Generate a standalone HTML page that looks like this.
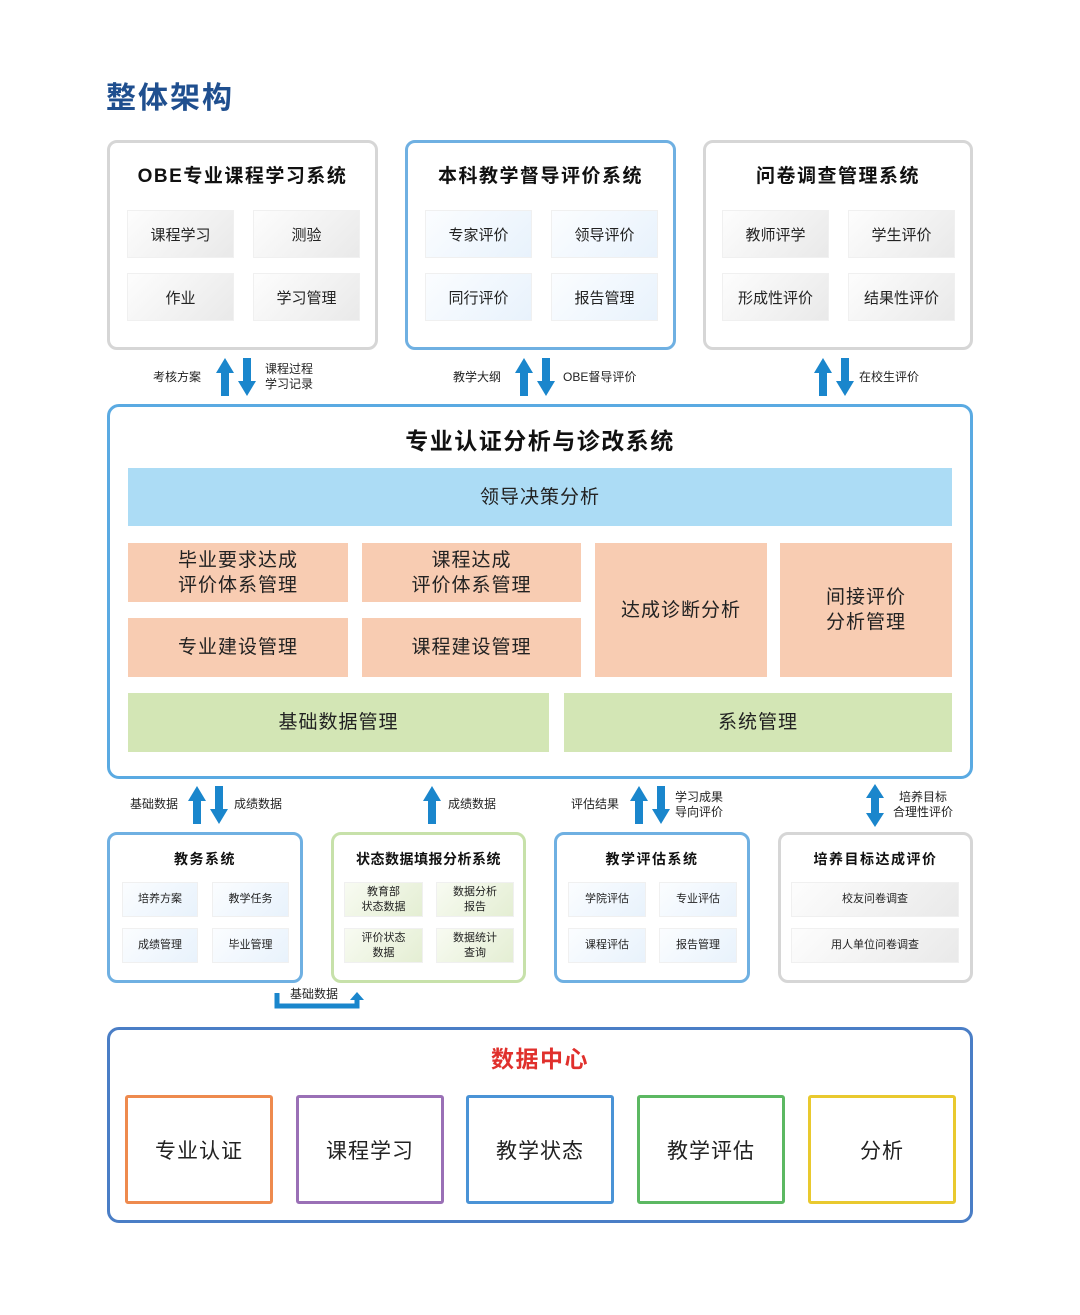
<!DOCTYPE html>
<html><head><meta charset="utf-8">
<style>
*{margin:0;padding:0;box-sizing:border-box}
body{width:1080px;height:1315px;background:#fff;position:relative;font-family:"Liberation Sans","Noto Sans CJK SC",sans-serif;color:#222;overflow:hidden}
.a{position:absolute}
.box{position:absolute;border:3px solid #d6d6d6;border-radius:10px;background:#fff}
.t{position:absolute;left:0;right:0;text-align:center;font-weight:bold;color:#111;letter-spacing:1.5px}
.c{position:absolute;display:flex;align-items:center;justify-content:center;text-align:center;font-size:15px;color:#222;border:1px solid #f0f0f0}
.g{background:linear-gradient(135deg,#fdfdfd,#e9e9e9)}
.b{background:linear-gradient(135deg,#fbfdff,#e8f2fc)}
.gr{background:linear-gradient(135deg,#f8fbf2,#e4eed3)}
.s{font-size:11px;line-height:15px}
.lbl{position:absolute;font-size:12px;line-height:15px;color:#222}
.m{position:absolute;display:flex;align-items:center;justify-content:center;text-align:center;font-size:19px;line-height:25px;color:#222;letter-spacing:1px}
.o{background:#f8ccb2}
.dc{position:absolute;top:1095px;width:148px;height:109px;border:3px solid;border-radius:3px;display:flex;align-items:center;justify-content:center;font-size:21px;color:#222;letter-spacing:1px}
</style></head><body>
<div class="a" style="left:106px;top:79px;font-size:30px;font-weight:bold;color:#1f4f8f;line-height:40px;letter-spacing:2px">整体架构</div>

<div class="box" style="left:107px;top:140px;width:271px;height:210px">
<div class="t" style="top:18px;font-size:19px">OBE专业课程学习系统</div></div>
<div class="c g" style="left:127px;top:210px;width:107px;height:48px">课程学习</div>
<div class="c g" style="left:253px;top:210px;width:107px;height:48px">测验</div>
<div class="c g" style="left:127px;top:273px;width:107px;height:48px">作业</div>
<div class="c g" style="left:253px;top:273px;width:107px;height:48px">学习管理</div>

<div class="box" style="left:405px;top:140px;width:271px;height:210px;border-color:#6fb0e2">
<div class="t" style="top:18px;font-size:19px">本科教学督导评价系统</div></div>
<div class="c b" style="left:425px;top:210px;width:107px;height:48px">专家评价</div>
<div class="c b" style="left:551px;top:210px;width:107px;height:48px">领导评价</div>
<div class="c b" style="left:425px;top:273px;width:107px;height:48px">同行评价</div>
<div class="c b" style="left:551px;top:273px;width:107px;height:48px">报告管理</div>

<div class="box" style="left:703px;top:140px;width:270px;height:210px">
<div class="t" style="top:18px;font-size:19px">问卷调查管理系统</div></div>
<div class="c g" style="left:722px;top:210px;width:107px;height:48px">教师评学</div>
<div class="c g" style="left:848px;top:210px;width:107px;height:48px">学生评价</div>
<div class="c g" style="left:722px;top:273px;width:107px;height:48px">形成性评价</div>
<div class="c g" style="left:848px;top:273px;width:107px;height:48px">结果性评价</div>

<div class="lbl" style="left:153px;top:370px">考核方案</div>
<div class="lbl" style="left:265px;top:362px">课程过程<br>学习记录</div>
<div class="lbl" style="left:453px;top:370px">教学大纲</div>
<div class="lbl" style="left:563px;top:370px">OBE督导评价</div>
<div class="lbl" style="left:859px;top:370px">在校生评价</div>

<div class="box" style="left:107px;top:404px;width:866px;height:375px;border-color:#5aaae2;border-radius:12px">
<div class="t" style="top:15px;font-size:23px">专业认证分析与诊改系统</div></div>
<div class="m" style="left:128px;top:468px;width:824px;height:58px;background:#acdcf5">领导决策分析</div>
<div class="m o" style="left:128px;top:543px;width:220px;height:59px">毕业要求达成<br>评价体系管理</div>
<div class="m o" style="left:362px;top:543px;width:219px;height:59px">课程达成<br>评价体系管理</div>
<div class="m o" style="left:128px;top:618px;width:220px;height:59px">专业建设管理</div>
<div class="m o" style="left:362px;top:618px;width:219px;height:59px">课程建设管理</div>
<div class="m o" style="left:595px;top:543px;width:172px;height:134px">达成诊断分析</div>
<div class="m o" style="left:780px;top:543px;width:172px;height:134px">间接评价<br>分析管理</div>
<div class="m" style="left:128px;top:693px;width:421px;height:59px;background:#d3e6b5">基础数据管理</div>
<div class="m" style="left:564px;top:693px;width:388px;height:59px;background:#d3e6b5">系统管理</div>

<div class="lbl" style="left:130px;top:797px">基础数据</div>
<div class="lbl" style="left:234px;top:797px">成绩数据</div>
<div class="lbl" style="left:448px;top:797px">成绩数据</div>
<div class="lbl" style="left:571px;top:797px">评估结果</div>
<div class="lbl" style="left:675px;top:790px">学习成果<br>导向评价</div>
<div class="lbl" style="left:893px;top:790px;text-align:center">培养目标<br>合理性评价</div>

<div class="box" style="left:107px;top:832px;width:196px;height:151px;border-color:#6fb0e2">
<div class="t" style="top:14px;font-size:14px">教务系统</div></div>
<div class="c b s" style="left:122px;top:882px;width:76px;height:35px">培养方案</div>
<div class="c b s" style="left:212px;top:882px;width:77px;height:35px">教学任务</div>
<div class="c b s" style="left:122px;top:928px;width:76px;height:35px">成绩管理</div>
<div class="c b s" style="left:212px;top:928px;width:77px;height:35px">毕业管理</div>

<div class="box" style="left:331px;top:832px;width:195px;height:151px;border-color:#c7e1aa">
<div class="t" style="top:14px;font-size:14px;letter-spacing:0.5px">状态数据填报分析系统</div></div>
<div class="c gr s" style="left:344px;top:882px;width:79px;height:35px">教育部<br>状态数据</div>
<div class="c gr s" style="left:436px;top:882px;width:78px;height:35px">数据分析<br>报告</div>
<div class="c gr s" style="left:344px;top:928px;width:79px;height:35px">评价状态<br>数据</div>
<div class="c gr s" style="left:436px;top:928px;width:78px;height:35px">数据统计<br>查询</div>

<div class="box" style="left:554px;top:832px;width:196px;height:151px;border-color:#6fb0e2">
<div class="t" style="top:14px;font-size:14px">教学评估系统</div></div>
<div class="c b s" style="left:568px;top:882px;width:78px;height:35px">学院评估</div>
<div class="c b s" style="left:659px;top:882px;width:78px;height:35px">专业评估</div>
<div class="c b s" style="left:568px;top:928px;width:78px;height:35px">课程评估</div>
<div class="c b s" style="left:659px;top:928px;width:78px;height:35px">报告管理</div>

<div class="box" style="left:778px;top:832px;width:195px;height:151px">
<div class="t" style="top:14px;font-size:14px">培养目标达成评价</div></div>
<div class="c g s" style="left:791px;top:882px;width:168px;height:35px">校友问卷调查</div>
<div class="c g s" style="left:791px;top:928px;width:168px;height:35px">用人单位问卷调查</div>

<div class="lbl" style="left:290px;top:987px">基础数据</div>

<div class="box" style="left:107px;top:1027px;width:866px;height:196px;border-color:#4a7ec6;border-radius:12px">
<div class="t" style="top:10px;font-size:23px;color:#e0302c">数据中心</div></div>
<div class="dc" style="left:125px;border-color:#ee8a4e">专业认证</div>
<div class="dc" style="left:296px;border-color:#9a70b6">课程学习</div>
<div class="dc" style="left:466px;border-color:#4a93d6">教学状态</div>
<div class="dc" style="left:637px;border-color:#5cb862">教学评估</div>
<div class="dc" style="left:808px;border-color:#e9c92e">分析</div>

<svg class="a" style="left:0;top:0" width="1080" height="1315" fill="#1a86cc">
<polygon points="225,358 234,373 229,373 229,396 221,396 221,373 216,373"/>
<polygon points="247,396 256,381 251,381 251,358 243,358 243,381 238,381"/>
<polygon points="524,358 533,373 528,373 528,396 520,396 520,373 515,373"/>
<polygon points="546,396 555,381 550,381 550,358 542,358 542,381 537,381"/>
<polygon points="823,358 832,373 827,373 827,396 819,396 819,373 814,373"/>
<polygon points="845,396 854,381 849,381 849,358 841,358 841,381 836,381"/>
<polygon points="197,786 206,801 201,801 201,824 193,824 193,801 188,801"/>
<polygon points="219,824 228,809 223,809 223,786 215,786 215,809 210,809"/>
<polygon points="432,786 441,801 436,801 436,824 428,824 428,801 423,801"/>
<polygon points="639,786 648,801 643,801 643,824 635,824 635,801 630,801"/>
<polygon points="661,824 670,809 665,809 665,786 657,786 657,809 652,809"/>
<polygon points="875,784 884,798 879,798 879,813 884,813 875,827 866,813 871,813 871,798 866,798"/>
<path d="M277,993 V1006 H357 V999" fill="none" stroke="#1a86cc" stroke-width="5"/>
<polygon points="357,992 364,1000 350,1000"/>
</svg>
</body></html>
